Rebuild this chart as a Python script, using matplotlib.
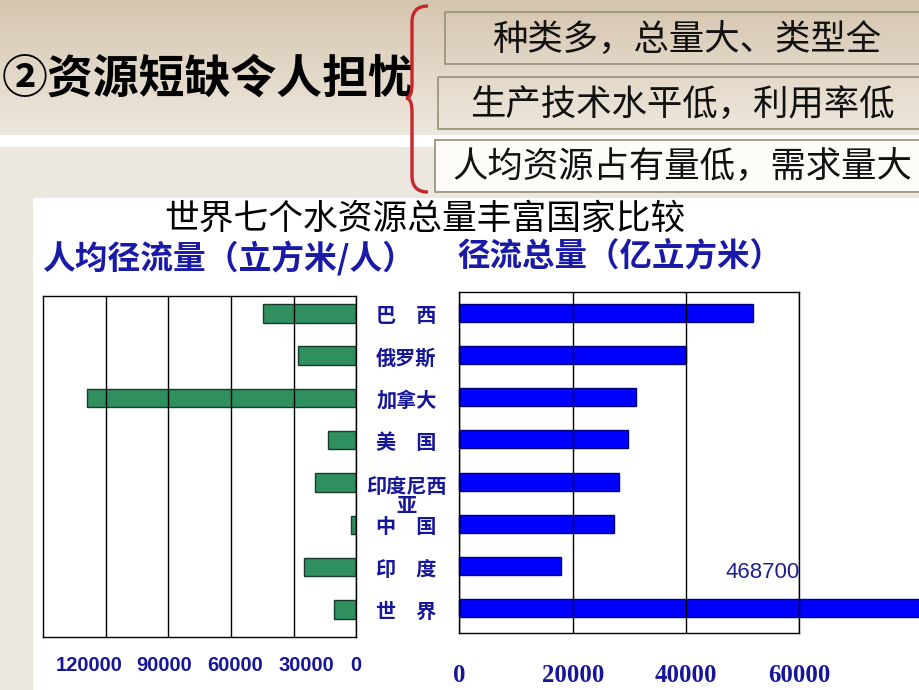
import numpy as np
import matplotlib
matplotlib.use('Agg')
import matplotlib.pyplot as plt
from matplotlib.patches import Rectangle, PathPatch
from matplotlib.path import Path
import matplotlib.transforms as mtransforms

plt.rcParams['font.family'] = ['Noto Sans CJK SC', 'DejaVu Sans']

# ---------------- data ----------------
countries = ['巴　西', '俄罗斯', '加拿大', '美　国', '印度尼西\n亚', '中　国', '印　度', '世　界']
per_capita = [44900, 27800, 128900, 13400, 19700, 2700, 25100, 10700]      # 立方米/人
total_runoff = [51900, 40000, 31200, 29700, 28100, 27200, 17900, 468700]   # 亿立方米
left_ticks = [0, 30000, 60000, 90000, 120000]
left_ticklabels = ['0', '30000', '60000', '90000', '120000']
right_ticks = [0, 20000, 40000, 60000]
right_ticklabels = ['0', '20000', '40000', '60000']
world_label = '468700'
chart_title = '世界七个水资源总量丰富国家比较'
left_subtitle = '人均径流量（立方米/人）'
right_subtitle = '径流总量（亿立方米）'
header = '②资源短缺令人担忧'
points = ['种类多，总量大、类型全', '生产技术水平低，利用率低', '人均资源占有量低，需求量大']

# ---------------- figure / background ----------------
W, H = 920, 690
fig = plt.figure(figsize=(9.2, 6.9), dpi=100)
bg = fig.add_axes([0, 0, 1, 1], zorder=0)
bg.set_xlim(0, W)
bg.set_ylim(H, 0)
bg.axis('off')

top = np.array([0.835, 0.775, 0.685])
bot = np.array([0.935, 0.910, 0.870])
t = np.linspace(0, 1, 200)[:, None, None]
grad = top * (1 - t) + bot * t
bg.imshow(grad, extent=[0, W, 135, 0], aspect='auto', zorder=0)
bg.add_patch(Rectangle((0, 135), W, 12, fc='white', ec='none', zorder=1))
bg.add_patch(Rectangle((0, 147), W, H - 147, fc='#ece7df', ec='none', zorder=1))
bg.add_patch(Rectangle((33, 198), W - 33, H - 198, fc='white', ec='none', zorder=2))
bg.set_xlim(0, W)
bg.set_ylim(H, 0)

# header
bg.text(2, 80, header, fontsize=33, fontweight='heavy', color='black',
        ha='left', va='center', zorder=5)

# red brace
verts = [(428, 6), (412, 6), (412, 22), (412, 84), (412, 98), (406, 98),
         (412, 98), (412, 112), (412, 176), (412, 192), (428, 192)]
codes = [Path.MOVETO, Path.CURVE3, Path.CURVE3, Path.LINETO, Path.CURVE3, Path.CURVE3,
         Path.CURVE3, Path.CURVE3, Path.LINETO, Path.CURVE3, Path.CURVE3]
bg.add_patch(PathPatch(Path(verts, codes), fill=False, ec='#c8262a', lw=2.4, zorder=5))

# boxes
boxes = [(445, 11.7, 52, 'none', 687), (438, 76.7, 52, 'none', 682), (435, 139.5, 52, '#fdfcf9', 682)]
for (x0, y0, h, fc, xc), txt in zip(boxes, points):
    bg.add_patch(Rectangle((x0, y0), W + 20 - x0, h, fc=fc, ec='#9c967e', lw=1.3, zorder=4))
    bg.text(xc, y0 + h / 2 + 2, txt, fontsize=25.5, color='#111111', ha='center', va='center', zorder=5)

# titles
navy = '#16169a'
bg.text(425, 219, chart_title, fontsize=25, color='black', ha='center', va='center', zorder=5)
bg.text(42, 259, left_subtitle, fontsize=23.6, fontweight='bold', color='#1a1aa8',
        ha='left', va='center', zorder=5)
bg.text(457, 256, right_subtitle, fontsize=23.4, fontweight='bold', color='#1a1aa8',
        ha='left', va='center', zorder=5)

# ---------------- left chart ----------------
y = np.arange(len(countries))
axL = fig.add_axes([43.3 / W, 1 - 637.3 / H, 313 / W, 341.3 / H], zorder=3)
axL.barh(y, per_capita, height=0.437, color='#2f8f5f', edgecolor='#173d2a', lw=1)
axL.set_xlim(150000, 0)
axL.set_ylim(7.66, -0.41)
axL.set_xticks(left_ticks)
axL.set_xticklabels([])
axL.grid(axis='x', color='black', lw=1)
axL.tick_params(axis='x', length=0)
# the original tick labels sit slightly apart from their gridlines
label_shift_px = [0, 13, 4, -4, -17]
for tv, tl, dx in zip(left_ticks, left_ticklabels, label_shift_px):
    axL.annotate(tl, xy=(tv, 0), xycoords=('data', 'axes fraction'),
                 xytext=(dx, -19), textcoords='offset pixels', ha='center', va='top',
                 family='Liberation Sans', fontweight='bold', fontsize=14.5, color=navy,
                 annotation_clip=False)
axL.yaxis.tick_right()
axL.set_yticks(y)
axL.set_yticklabels(countries, fontsize=14.5, fontweight='bold', color=navy,
                    linespacing=0.9)
axL.tick_params(axis='y', length=0, pad=36)
for lab in axL.get_yticklabels():
    lab.set_ha('center')
    lab.set_multialignment('center')
    if '\n' in lab.get_text():
        lab.set_transform(lab.get_transform() +
                          mtransforms.ScaledTranslation(0, -9 / 72, fig.dpi_scale_trans))
for sp in axL.spines.values():
    sp.set_color('black')
    sp.set_linewidth(1)

# ---------------- right chart ----------------
axR = fig.add_axes([459.5 / W, 1 - 633.3 / H, 339.8 / W, 341.6 / H], zorder=3)
axR.barh(y, total_runoff, height=0.427, color='#0000ff', edgecolor='#00007a', lw=1,
         clip_on=False)
axR.set_xlim(0, 60000)
axR.set_ylim(7.595, -0.5)
axR.set_xticks(right_ticks)
axR.set_xticklabels(right_ticklabels, family='Liberation Serif', fontweight='bold',
                    fontsize=17.8, color=navy)
axR.set_yticks([])
axR.grid(axis='x', color='black', lw=1)
axR.tick_params(axis='x', length=0, pad=22)
for sp in axR.spines.values():
    sp.set_color('black')
    sp.set_linewidth(1)
axR.text(60000, y[-1] - 0.85, world_label, ha='right', va='center', fontsize=16,
         color='#1f1f8f', family='Liberation Sans')

fig.savefig('out.png', dpi=100)
